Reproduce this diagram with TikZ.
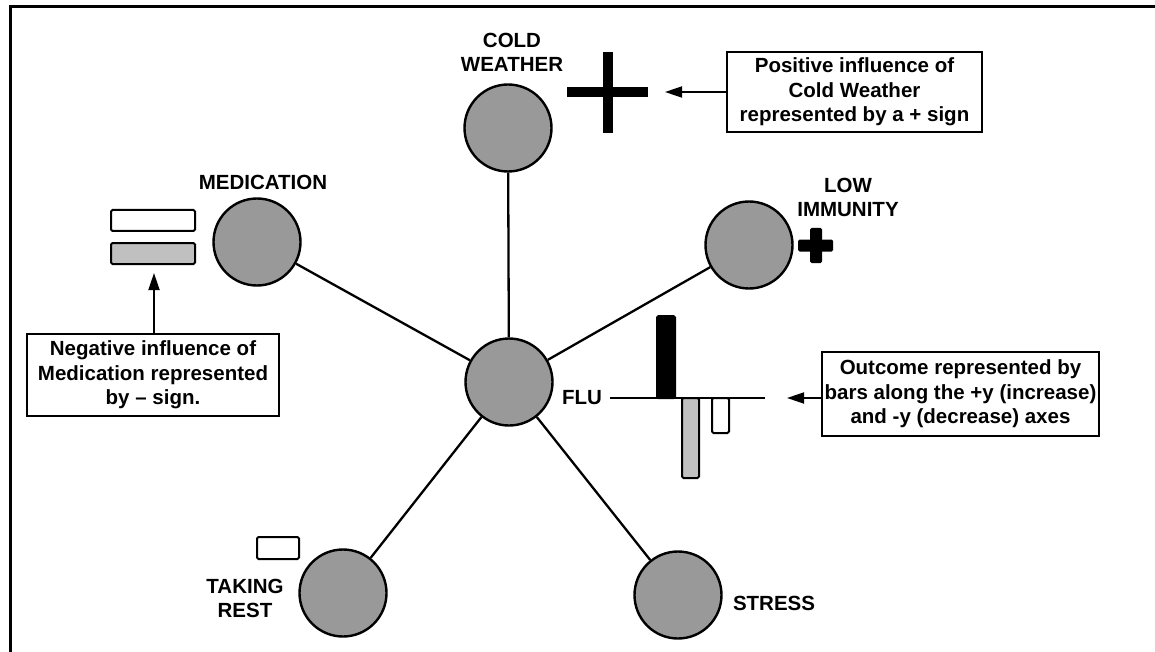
\documentclass[tikz,border=0pt]{standalone}
\usepackage{fontspec}
\setmainfont{Liberation Sans}
\usetikzlibrary{arrows.meta}
\definecolor{factorgray}{HTML}{999999}
\definecolor{bargray}{HTML}{C0C0C0}
\begin{document}
\begin{tikzpicture}[x=1pt,y=-1pt,
  factor/.style={circle,draw,line width=2.4pt,fill=factorgray,minimum size=87pt,inner sep=0pt},
  link/.style={line width=2.3pt},
  lbl/.style={font=\fontsize{20.5}{24}\selectfont\bfseries,align=center,inner sep=0pt},
  note/.style={draw,line width=2pt,font=\fontsize{20.5}{24.5}\selectfont\bfseries,align=center,inner sep=0pt},
  pointer/.style={line width=1.8pt,-{Triangle[length=17pt,width=11pt]}},
  bar/.style={draw,line width=2pt,rounded corners=1.5pt}]
\useasboundingbox (0,0) rectangle (1155,652);

% frame
\draw[line width=3pt] (10,652) -- (10,7) -- (1155,7);

% factors
\node[factor] (flu)  at (509,382) {};
\node[factor] (cold) at (508,128) {};
\node[factor] (med)  at (257,242) {};
\node[factor] (imm)  at (749,245) {};
\node[factor] (rest) at (343,593) {};
\node[factor] (str)  at (678,595) {};

\draw[link] (flu) -- (cold);
\draw[link] (flu) -- (med);
\draw[link] (flu) -- (imm);
\draw[link] (flu) -- (rest);
\draw[link] (flu) -- (str);

% labels
\node[lbl] (coldlbl) at (512,52) {COLD\\WEATHER};
\node[lbl] (medlbl)  at (263,182) {MEDICATION};
\node[lbl] (immlbl)  at (848,197) {LOW\\IMMUNITY};
\node[lbl] (flulbl)  at (582,398) {FLU};
\node[lbl] (restlbl) at (245,598) {TAKING\\REST};
\node[lbl] (strlbl)  at (774,603) {STRESS};

% signs
\fill (603,52) rectangle (613,133);
\fill (567,87) rectangle (648,97);
\fill[rounded corners=1.5pt] (810,228) rectangle (822,263);
\fill[rounded corners=1.5pt] (798,239.5) rectangle (833,251.5);

\draw[bar,fill=white]   (111,210) rectangle (195,231);
\draw[bar,fill=bargray] (111,243) rectangle (195,264);
\draw[bar,fill=white]   (257,537) rectangle (299,559);

% outcome bars
\draw[line width=2.3pt] (610,398) -- (765,398);
\draw[bar,fill=black]   (657,316) rectangle (675,398);
\draw[bar,fill=bargray] (682,398) rectangle (699,478);
\draw[bar,fill=white]   (712,398) rectangle (729,433);

% notes
\node[note,minimum width=255pt,minimum height=80pt] (posnote) at (854.5,92)
  {Positive influence of\\Cold Weather\\represented by a + sign};
\node[note,minimum width=252pt,minimum height=82pt] (negnote) at (153,375)
  {Negative influence of\\Medication represented\\by -- sign.};
\node[note,minimum width=277pt,minimum height=84pt] (outnote) at (960.5,394)
  {Outcome represented by\\bars along the +y (increase)\\and -y (decrease) axes};

\coordinate (plustip) at (665,92);
\coordinate (bartip) at (154,273);
\coordinate (axistip) at (787,398);

\draw[pointer] (posnote.west) -- (plustip);
\draw[pointer] (negnote.north -| bartip) -- (bartip);
\draw[pointer] (outnote.west |- axistip) -- (axistip);
\end{tikzpicture}
\end{document}
